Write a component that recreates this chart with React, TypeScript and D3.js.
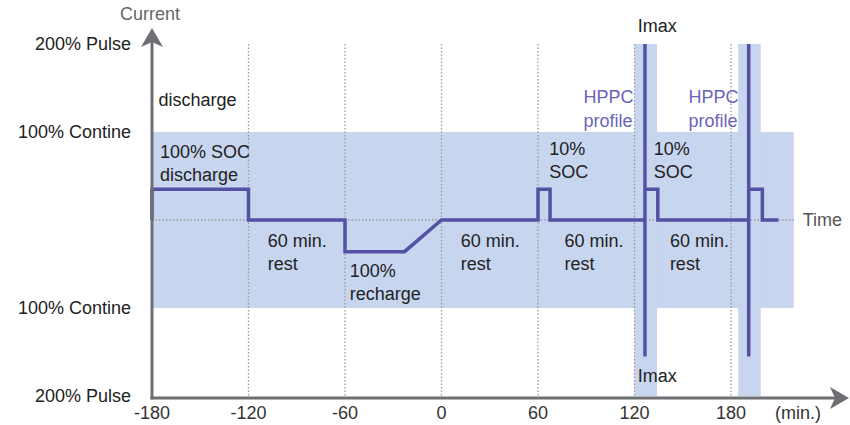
import * as d3 from "d3";
import { useEffect, useRef } from "react";

// time axis (min.)
const timeTicks = [-180, -120, -60, 0, 60, 120, 180];
const gridTimes = [-120, -60, 0, 60, 120, 180];

// current axis (%)
const currentTicks = [200, 100, -100, -200];
const currentLabels = ["200% Pulse", "100% Contine", "100% Contine", "200% Pulse"];

// test profile: time (min.) and current (%)
const profileTime = [
  -180, -180, -120, -120, -60, -60, -23, 0, 60, 60, 67.5, 67.5,
  126.5, 126.5, 126.5, 126.5, 134.5, 134.5,
  191, 191, 191, 191, 199.5, 199.5, 209.5,
];
const profileCurrent = [
  0, 35, 35, 0, 0, -36, -36, 0, 0, 35, 35, 0,
  0, 200, -155, 35, 35, 0,
  0, 200, -155, 35, 35, 0, 0,
];

// shaded continuous range and HPPC windows
const bandStart = -180;
const bandEnd = 219;
const hppcStart = [120, 184.5];
const hppcEnd = [134, 198.5];

// annotations: anchor (time, current) and text lines
const noteTime = [-176, -175, -108, -57, 12, 67, 76.5, 132, 142, 122, 122];
const noteCurrent = [129.5, 70.5, -31, -65, -31, 74, -31, 74, -31, 213.5, -184];
const noteLines = [
  ["discharge"],
  ["100% SOC", "discharge"],
  ["60 min.", "rest"],
  ["100%", "recharge"],
  ["60 min.", "rest"],
  ["10%", "SOC"],
  ["60 min.", "rest"],
  ["10%", "SOC"],
  ["60 min.", "rest"],
  ["Imax"],
  ["Imax"],
];
const hppcTime = [88.3, 153.6];
const hppcCurrent = [133, 133];
const hppcLines = ["HPPC", "profile"];

const W = 850;
const H = 425;
const FONT = "'Liberation Sans', Arial, sans-serif";
const FS = 18;

function App() {
  const ref = useRef(null);

  useEffect(() => {
    const svg = d3.select(ref.current);
    svg.selectAll("*").remove();

    const x = d3.scaleLinear().domain([-180, 180]).range([152, 731]);
    const y = d3.scaleLinear().domain([-200, 200]).range([396, 44]);

    const bandColor = "#c7d5ef";
    const lineColor = "#5450a3";
    const axisColor = "#6e6f72";

    // shaded band
    svg
      .append("rect")
      .attr("x", x(bandStart))
      .attr("y", y(100))
      .attr("width", x(bandEnd) - x(bandStart))
      .attr("height", y(-100) - y(100))
      .attr("fill", bandColor);

    // HPPC windows
    svg
      .selectAll(".hppc")
      .data(hppcStart)
      .enter()
      .append("rect")
      .attr("x", (d) => x(d))
      .attr("y", y(200))
      .attr("width", (d, i) => x(hppcEnd[i]) - x(d))
      .attr("height", y(-200) - y(200))
      .attr("fill", bandColor);

    // vertical dotted grid
    svg
      .selectAll(".grid")
      .data(gridTimes)
      .enter()
      .append("line")
      .attr("x1", (d) => x(d))
      .attr("x2", (d) => x(d))
      .attr("y1", y(200))
      .attr("y2", y(-200))
      .attr("stroke", "#9a9a9a")
      .attr("stroke-width", 1.3)
      .attr("stroke-dasharray", "1.5,2");

    // zero current dotted line
    svg
      .append("line")
      .attr("x1", x(-180))
      .attr("x2", x(bandEnd))
      .attr("y1", y(0))
      .attr("y2", y(0))
      .attr("stroke", "#9a9a9a")
      .attr("stroke-width", 1.3)
      .attr("stroke-dasharray", "1.5,2");

    svg
      .append("text")
      .attr("x", x(bandEnd) + 9)
      .attr("y", y(0))
      .attr("dy", "0.35em")
      .attr("font-family", FONT)
      .attr("font-size", FS)
      .attr("fill", "#555")
      .text("Time");

    // profile line
    const pts = profileTime.map((t, i) => [t, profileCurrent[i]]);
    const line = d3
      .line()
      .x((d) => x(d[0]))
      .y((d) => y(d[1]));

    svg
      .append("path")
      .datum(pts)
      .attr("d", line)
      .attr("fill", "none")
      .attr("stroke", lineColor)
      .attr("stroke-width", 3.5)
      .attr("stroke-linejoin", "miter");

    // axes
    const x0 = x(-180);
    const yAxis = y(-200) + 2;
    svg
      .append("line")
      .attr("x1", x0)
      .attr("x2", x0)
      .attr("y1", yAxis + 1.5)
      .attr("y2", 40)
      .attr("stroke", axisColor)
      .attr("stroke-width", 3);
    svg
      .append("path")
      .attr("d", `M${x0},28 L${x0 + 11},47 L${x0},42 L${x0 - 11},47 Z`)
      .attr("fill", axisColor);

    svg
      .append("line")
      .attr("x1", x0 - 1.5)
      .attr("x2", 838)
      .attr("y1", yAxis)
      .attr("y2", yAxis)
      .attr("stroke", axisColor)
      .attr("stroke-width", 3);
    svg
      .append("path")
      .attr("d", `M849,${yAxis} L830,${yAxis - 11} L835,${yAxis} L830,${yAxis + 11} Z`)
      .attr("fill", axisColor);

    // axis labels
    svg
      .append("text")
      .attr("x", x0 - 2)
      .attr("y", 20)
      .attr("text-anchor", "middle")
      .attr("font-family", FONT)
      .attr("font-size", FS)
      .attr("fill", "#666")
      .text("Current");

    svg
      .selectAll(".xtick")
      .data(timeTicks)
      .enter()
      .append("text")
      .attr("x", (d) => x(d))
      .attr("y", 419)
      .attr("text-anchor", "middle")
      .attr("font-family", FONT)
      .attr("font-size", FS)
      .attr("fill", "#333")
      .text((d) => d);

    svg
      .append("text")
      .attr("x", 798)
      .attr("y", 419)
      .attr("text-anchor", "middle")
      .attr("font-family", FONT)
      .attr("font-size", FS)
      .attr("fill", "#333")
      .text("(min.)");

    svg
      .selectAll(".ytick")
      .data(currentTicks)
      .enter()
      .append("text")
      .attr("x", 131)
      .attr("y", (d) => y(d))
      .attr("dy", "0.35em")
      .attr("text-anchor", "end")
      .attr("font-family", FONT)
      .attr("font-size", FS)
      .attr("fill", "#222")
      .text((d, i) => currentLabels[i]);

    // annotations
    const notes = svg
      .selectAll(".note")
      .data(noteTime)
      .enter()
      .append("text")
      .attr("font-family", FONT)
      .attr("font-size", FS)
      .attr("fill", "#222");
    notes
      .selectAll("tspan")
      .data((d, i) => noteLines[i].map((s) => ({ s, t: d, c: noteCurrent[i] })))
      .enter()
      .append("tspan")
      .attr("x", (d) => x(d.t))
      .attr("y", (d, j) => y(d.c) + j * 23)
      .text((d) => d.s);

    const hppc = svg
      .selectAll(".hppcnote")
      .data(hppcTime)
      .enter()
      .append("text")
      .attr("font-family", FONT)
      .attr("font-size", FS)
      .attr("fill", "#6a64b8");
    hppc
      .selectAll("tspan")
      .data((d, i) => hppcLines.map((s) => ({ s, t: d, c: hppcCurrent[i] })))
      .enter()
      .append("tspan")
      .attr("x", (d) => x(d.t))
      .attr("y", (d, j) => y(d.c) + j * 24)
      .text((d) => d.s);
  }, []);

  return (
    <svg
      ref={ref}
      width={W}
      height={H}
      style={{ position: "absolute", left: 0, top: 0, background: "#fff" }}
    />
  );
}

export default App;
